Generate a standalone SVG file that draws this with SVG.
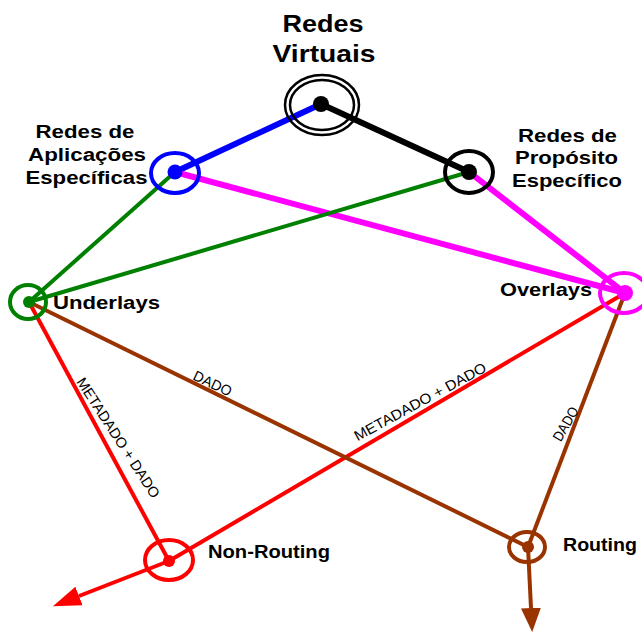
<svg xmlns="http://www.w3.org/2000/svg" width="642" height="632" viewBox="0 0 642 632">
  <defs>
    <marker id="arrow-red" markerUnits="userSpaceOnUse" markerWidth="30" markerHeight="22" refX="0" refY="11" orient="auto" viewBox="0 0 30 22">
      <path d="M0,1 L28,11 L0,21 z" fill="#ff0000"/>
    </marker>
    <marker id="arrow-brown" markerUnits="userSpaceOnUse" markerWidth="26" markerHeight="22" refX="0" refY="11" orient="auto" viewBox="0 0 26 22">
      <path d="M0,1 L24,11 L0,21 z" fill="#993300"/>
    </marker>
  </defs>
  <style>
    .title { font-family: "Liberation Sans", Arial, sans-serif; font-weight: bold; fill: #000; }
    .big { font-size: 23.5px; }
    .lbl { font-size: 18px; }
    .edge { font-family: "Liberation Sans", Arial, sans-serif; font-size: 14.5px; fill: #000; }
    .ring { fill: none; }
    line { fill: none; }
  </style>
  <rect width="642" height="632" fill="#ffffff"/>

  <g id="connectors">
    <line x1="321" y1="104" x2="175" y2="172" stroke="#0000ff" stroke-width="6"/>
    <line x1="321" y1="104" x2="469" y2="172" stroke="#000000" stroke-width="6"/>
    <line x1="175" y1="172" x2="625" y2="293" stroke="#ff00ff" stroke-width="6"/>
    <line x1="469" y1="172" x2="625" y2="293" stroke="#ff00ff" stroke-width="6"/>
    <line x1="175" y1="172" x2="29" y2="302" stroke="#008000" stroke-width="4"/>
    <line x1="469" y1="172" x2="29" y2="302" stroke="#008000" stroke-width="4"/>
    <line x1="29" y1="302" x2="169" y2="561" stroke="#ff0000" stroke-width="4"/>
    <line x1="625" y1="293" x2="169" y2="561" stroke="#ff0000" stroke-width="4"/>
    <line x1="169" y1="561" x2="79" y2="596" stroke="#ff0000" stroke-width="4" marker-end="url(#arrow-red)"/>
    <line x1="29" y1="302" x2="528" y2="547" stroke="#993300" stroke-width="4"/>
    <line x1="625" y1="293" x2="528" y2="547" stroke="#993300" stroke-width="4"/>
    <line x1="528" y1="547" x2="531" y2="608" stroke="#993300" stroke-width="4" marker-end="url(#arrow-brown)"/>
    <text class="edge" text-anchor="middle" transform="translate(210.5,388) rotate(25)" textLength="41" lengthAdjust="spacingAndGlyphs">DADO</text>
    <text class="edge" text-anchor="middle" transform="translate(114,440.5) rotate(57)" textLength="140" lengthAdjust="spacingAndGlyphs">METADADO + DADO</text>
    <text class="edge" text-anchor="middle" transform="translate(422.5,406) rotate(-28.5)" textLength="148" lengthAdjust="spacingAndGlyphs">METADADO + DADO</text>
    <text class="edge" text-anchor="middle" transform="translate(570,426.5) rotate(-60)" textLength="37" lengthAdjust="spacingAndGlyphs">DADO</text>
  </g>

  <g id="redes-virtuais">
    <ellipse class="ring" cx="322" cy="105" rx="37" ry="30" stroke="#000" stroke-width="2.5"/>
    <ellipse class="ring" cx="322" cy="105" rx="32" ry="25" stroke="#000" stroke-width="2.5"/>
    <circle cx="321" cy="104" r="8" fill="#000"/>
    <text class="title big" x="323" y="32" text-anchor="middle" textLength="81" lengthAdjust="spacingAndGlyphs">Redes</text>
    <text class="title big" x="324" y="62" text-anchor="middle" textLength="103" lengthAdjust="spacingAndGlyphs">Virtuais</text>
  </g>

  <g id="redes-aplicacoes">
    <ellipse class="ring" cx="175" cy="173" rx="24" ry="20" stroke="#0000ff" stroke-width="4"/>
    <circle cx="175" cy="172" r="7.5" fill="#0000ff"/>
    <text class="title lbl" x="85" y="138" text-anchor="middle" textLength="99" lengthAdjust="spacingAndGlyphs">Redes de</text>
    <text class="title lbl" x="87" y="161" text-anchor="middle" textLength="118" lengthAdjust="spacingAndGlyphs">Aplicações</text>
    <text class="title lbl" x="86.5" y="184" text-anchor="middle" textLength="122" lengthAdjust="spacingAndGlyphs">Específicas</text>
  </g>

  <g id="redes-proposito">
    <ellipse class="ring" cx="469" cy="172" rx="24" ry="21" stroke="#000" stroke-width="4"/>
    <circle cx="469" cy="172" r="8" fill="#000"/>
    <text class="title lbl" x="567.5" y="142" text-anchor="middle" textLength="99" lengthAdjust="spacingAndGlyphs">Redes de</text>
    <text class="title lbl" x="566.5" y="164" text-anchor="middle" textLength="103" lengthAdjust="spacingAndGlyphs">Propósito</text>
    <text class="title lbl" x="567" y="187" text-anchor="middle" textLength="110" lengthAdjust="spacingAndGlyphs">Específico</text>
  </g>

  <g id="underlays">
    <ellipse class="ring" cx="28" cy="302" rx="18" ry="17" stroke="#008000" stroke-width="4"/>
    <circle cx="29" cy="302" r="6" fill="#008000"/>
    <text class="title lbl" x="53" y="309" textLength="107" lengthAdjust="spacingAndGlyphs">Underlays</text>
  </g>

  <g id="overlays">
    <ellipse class="ring" cx="624" cy="293" rx="24" ry="20" stroke="#ff00ff" stroke-width="4"/>
    <circle cx="625" cy="293" r="8" fill="#ff00ff"/>
    <text class="title lbl" x="500" y="296" textLength="92" lengthAdjust="spacingAndGlyphs">Overlays</text>
  </g>

  <g id="non-routing">
    <ellipse class="ring" cx="169" cy="560" rx="24" ry="20" stroke="#ff0000" stroke-width="4"/>
    <circle cx="169" cy="561" r="6" fill="#ff0000"/>
    <text class="title lbl" x="208" y="558" textLength="122" lengthAdjust="spacingAndGlyphs">Non-Routing</text>
  </g>

  <g id="routing">
    <ellipse class="ring" cx="527" cy="547" rx="18" ry="15" stroke="#993300" stroke-width="4"/>
    <circle cx="528" cy="547" r="6" fill="#993300"/>
    <text class="title lbl" x="563" y="551" textLength="74" lengthAdjust="spacingAndGlyphs">Routing</text>
  </g>
</svg>
